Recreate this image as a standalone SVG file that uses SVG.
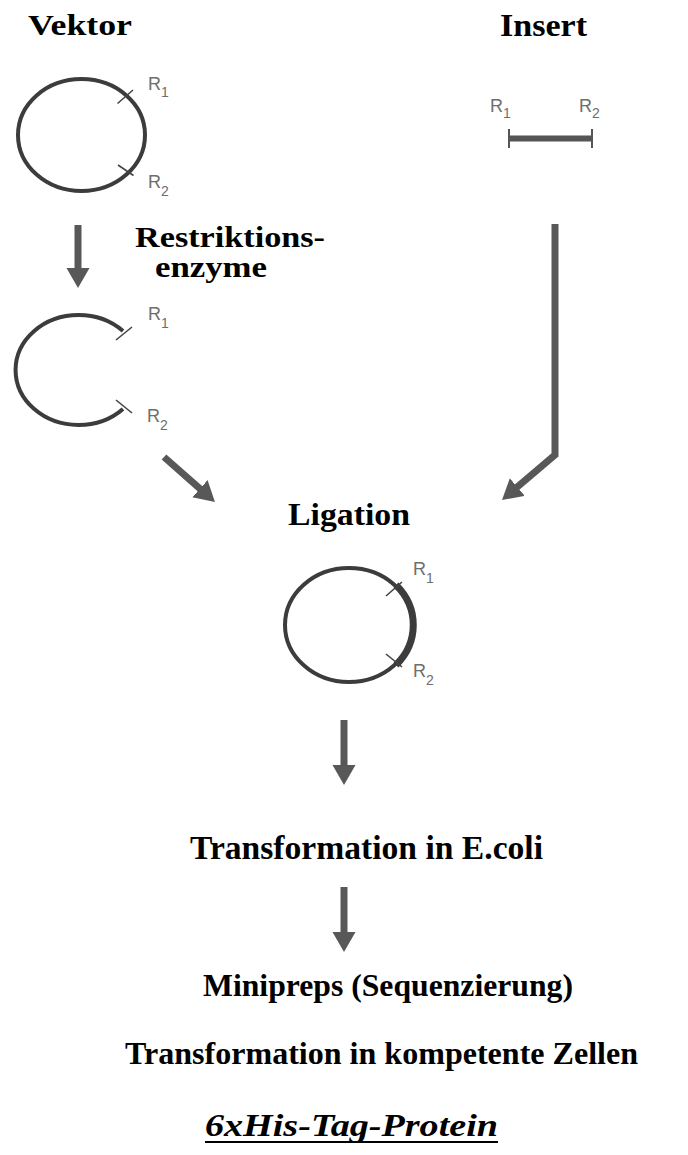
<svg xmlns="http://www.w3.org/2000/svg" width="688" height="1155" viewBox="0 0 688 1155">
<defs>
<style>
.title{font-family:"Liberation Serif","Times New Roman",serif;font-weight:bold;fill:#000;}
.rl{font-family:"Liberation Sans",Arial,sans-serif;fill:#6e6e6e;font-size:18px;}
.rs{font-size:14px;}
.ring{fill:none;stroke:#3c3c3c;stroke-width:4;}
.tick{stroke:#444;stroke-width:1.6;fill:none;}
.arr{fill:none;stroke:#585858;stroke-width:7;stroke-linejoin:miter;}
</style>
<marker id="ah" markerUnits="userSpaceOnUse" markerWidth="21" markerHeight="24" refX="1" refY="11.5" orient="auto" viewBox="0 0 21 24">
<path d="M0,0 L20,11.5 L0,23 z" fill="#585858"/>
</marker>
</defs>
<rect width="688" height="1155" fill="#fff"/>

<g id="vektor">
<text class="title" x="28" y="35" font-size="30" textLength="104" lengthAdjust="spacingAndGlyphs">Vektor</text>
<ellipse class="ring" cx="81.5" cy="135" rx="63.5" ry="56"/>
<line class="tick" x1="117.5" y1="103.5" x2="133" y2="90"/>
<line class="tick" x1="118" y1="165" x2="133.5" y2="175.5"/>
<text class="rl" x="148" y="90">R<tspan class="rs" dy="7">1</tspan></text>
<text class="rl" x="148" y="188">R<tspan class="rs" dy="8">2</tspan></text>
</g>

<g id="insert">
<text class="title" x="500" y="36" font-size="31" textLength="87" lengthAdjust="spacingAndGlyphs">Insert</text>
<line x1="509" y1="138.5" x2="592" y2="138.5" stroke="#555" stroke-width="6"/>
<line x1="509" y1="129" x2="509" y2="148" stroke="#555" stroke-width="2"/>
<line x1="592" y1="129" x2="592" y2="148" stroke="#555" stroke-width="2"/>
<text class="rl" x="490" y="112">R<tspan class="rs" dy="6">1</tspan></text>
<text class="rl" x="579" y="112">R<tspan class="rs" dy="6">2</tspan></text>
</g>

<g id="restriktion">
<text class="title" x="135" y="247" font-size="30" textLength="190" lengthAdjust="spacingAndGlyphs">Restriktions-</text>
<text class="title" x="155" y="277" font-size="30" textLength="112" lengthAdjust="spacingAndGlyphs">enzyme</text>
</g>

<g id="geschnitten">
<path class="ring" d="M 123 331 A 63 55 0 1 0 123 409"/>
<line class="tick" x1="116" y1="340" x2="132" y2="327"/>
<line class="tick" x1="116" y1="400" x2="132" y2="413"/>
<text class="rl" x="148" y="320">R<tspan class="rs" dy="8">1</tspan></text>
<text class="rl" x="147" y="422">R<tspan class="rs" dy="8">2</tspan></text>
</g>

<g id="ligation">
<text class="title" x="288" y="525" font-size="31" textLength="122" lengthAdjust="spacingAndGlyphs">Ligation</text>
<ellipse class="ring" cx="349" cy="625" rx="64" ry="57"/>
<path d="M 396 585 A 66.5 59.5 0 0 1 396 665" fill="none" stroke="#3c3c3c" stroke-width="7"/>
<line class="tick" x1="386" y1="596" x2="402" y2="582"/>
<line class="tick" x1="386" y1="654" x2="402" y2="667"/>
<text class="rl" x="413" y="575">R<tspan class="rs" dy="8">1</tspan></text>
<text class="rl" x="413" y="677">R<tspan class="rs" dy="8">2</tspan></text>
</g>

<g id="transformation-ecoli">
<text class="title" x="190" y="859" font-size="33" textLength="353" lengthAdjust="spacingAndGlyphs">Transformation in E.coli</text>
</g>

<g id="minipreps">
<text class="title" x="203" y="996" font-size="31" textLength="370" lengthAdjust="spacingAndGlyphs">Minipreps (Sequenzierung)</text>
</g>

<g id="transformation-zellen">
<text class="title" x="125" y="1064" font-size="32" textLength="513" lengthAdjust="spacingAndGlyphs">Transformation in kompetente Zellen</text>
</g>

<g id="protein">
<text class="title" x="205" y="1136" font-size="31" font-style="italic" textLength="293" lengthAdjust="spacingAndGlyphs">6xHis-Tag-Protein</text>
<line x1="205" y1="1142" x2="498" y2="1142" stroke="#000" stroke-width="2.2"/>
</g>

<g id="connectors">
<line class="arr" x1="78" y1="225" x2="78" y2="269" marker-end="url(#ah)"/>
<line class="arr" x1="164" y1="457" x2="200.7" y2="489.4" marker-end="url(#ah)"/>
<polyline class="arr" points="555,224 555,455 516.5,487.7" marker-end="url(#ah)"/>
<line class="arr" x1="344" y1="720" x2="344" y2="766" marker-end="url(#ah)"/>
<line class="arr" x1="344" y1="887" x2="344" y2="933" marker-end="url(#ah)"/>
</g>
</svg>
